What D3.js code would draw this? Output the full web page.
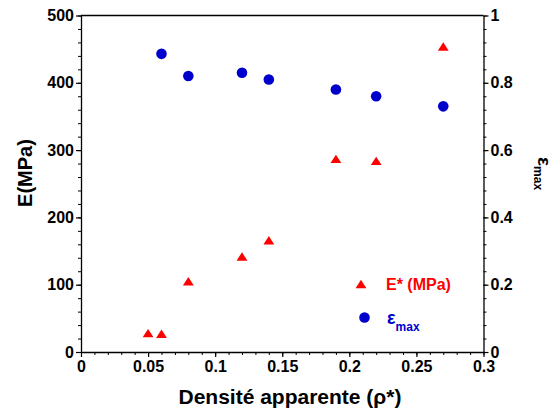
<!DOCTYPE html>
<html><head><meta charset="utf-8">
<script src="https://cdn.jsdelivr.net/npm/d3@7"></script>
<style>
body{margin:0;background:#fff;}
text{font-family:"Liberation Sans",Arial,Helvetica,sans-serif;font-weight:bold;}
</style></head>
<body><svg id="c" width="556" height="416"></svg>
<script>
const densityE = [0.05, 0.06, 0.08, 0.12, 0.14, 0.19, 0.22, 0.27];
const modulusE = [28, 27, 105, 142, 166, 287, 284, 454];
const densityEps = [0.06, 0.08, 0.12, 0.14, 0.19, 0.22, 0.27];
const epsMax = [0.886, 0.820, 0.830, 0.810, 0.780, 0.760, 0.730];
const xTicks = [0, 0.05, 0.1, 0.15, 0.2, 0.25, 0.3];
const yLeftTicks = [0, 100, 200, 300, 400, 500];
const yRightTicks = [0, 0.2, 0.4, 0.6, 0.8, 1];

const svg = d3.select("#c");
const L = 81, R = 483.5, T = 15.5, B = 352;
const x = d3.scaleLinear().domain([0, 0.3]).range([L, R]);
const yL = d3.scaleLinear().domain([0, 500]).range([B, T]);
const yR = d3.scaleLinear().domain([0, 1]).range([B, T]);

// frame top
svg.append("line").attr("x1", L).attr("x2", R).attr("y1", T).attr("y2", T)
  .attr("stroke", "#000").attr("stroke-width", 1.3);

function styleAxis(g, fs) {
  g.select(".domain").attr("stroke", "#000").attr("stroke-width", 1.3);
  g.selectAll(".tick line").attr("stroke", "#000").attr("stroke-width", 1.2);
  g.selectAll(".tick text").attr("font-size", fs).attr("fill", "#000")
    .style("font-family", '"Liberation Sans",Arial,sans-serif').style("font-weight", "bold");
}

// minor ticks
const gMinX = svg.append("g").attr("transform", `translate(0,${B})`)
  .call(d3.axisBottom(x).tickValues(d3.range(0, 0.3001, 0.01)).tickSize(3).tickFormat(""));
gMinX.select(".domain").remove();
gMinX.selectAll("line").attr("stroke", "#000");
const gMinL = svg.append("g").attr("transform", `translate(${L},0)`)
  .call(d3.axisLeft(yL).tickValues(d3.range(0, 501, 20)).tickSize(3).tickFormat(""));
gMinL.select(".domain").remove();
gMinL.selectAll("line").attr("stroke", "#000");
const gMinR = svg.append("g").attr("transform", `translate(${R},0)`)
  .call(d3.axisRight(yR).tickValues(d3.range(0, 1.0001, 0.04)).tickSize(3).tickFormat(""));
gMinR.select(".domain").remove();
gMinR.selectAll("line").attr("stroke", "#000");

const gx = svg.append("g").attr("transform", `translate(0,${B})`)
  .call(d3.axisBottom(x).tickValues(xTicks).tickSize(5).tickPadding(4).tickSizeOuter(0)
    .tickFormat(d => d3.format("")(+d.toFixed(2))));
styleAxis(gx, 16);
const gl = svg.append("g").attr("transform", `translate(${L},0)`)
  .call(d3.axisLeft(yL).tickValues(yLeftTicks).tickSize(5).tickPadding(2).tickSizeOuter(0));
styleAxis(gl, 16);
const gr = svg.append("g").attr("transform", `translate(${R},0)`)
  .call(d3.axisRight(yR).tickValues(yRightTicks).tickSize(5).tickPadding(2).tickSizeOuter(0)
    .tickFormat(d => String(+d.toFixed(1))));
styleAxis(gr, 16);

// titles
svg.append("text").attr("x", 290).attr("y", 404).attr("text-anchor", "middle")
  .attr("font-size", 21).text("Densité apparente (ρ*)");
svg.append("text").attr("transform", "translate(32,173) rotate(-90)").attr("text-anchor", "middle")
  .attr("font-size", 20).text("E(MPa)");
const rt = svg.append("text").attr("transform", "translate(537.5,157) rotate(90)").attr("font-size", 19);
rt.append("tspan").text("ε");
rt.append("tspan").attr("font-size", 12).attr("dy", 4).text("max");

// markers: flattened triangle centred on its bounding box
const triType = {
  draw(ctx, size) {
    const w = Math.sqrt(size) * 1.5, h = w * 0.78;
    ctx.moveTo(0, -h / 2); ctx.lineTo(w / 2, h / 2); ctx.lineTo(-w / 2, h / 2); ctx.closePath();
  }
};
const tri = d3.symbol().type(triType).size(52);
svg.append("g").selectAll("path").data(densityE.map((d, i) => [d, modulusE[i]]))
  .join("path").attr("d", tri)
  .attr("transform", d => `translate(${x(d[0])},${yL(d[1])})`)
  .attr("fill", "#ff0000");
svg.append("g").selectAll("circle").data(densityEps.map((d, i) => [d, epsMax[i]]))
  .join("circle").attr("cx", d => x(d[0])).attr("cy", d => yR(d[1])).attr("r", 5.3)
  .attr("fill", "#0000cc");

// legend
svg.append("path").attr("d", tri).attr("transform", "translate(361,284)").attr("fill", "#ff0000");
svg.append("text").attr("x", 386).attr("y", 290).attr("font-size", 16).attr("fill", "#ff0000").text("E* (MPa)");
svg.append("circle").attr("cx", 364.5).attr("cy", 317.5).attr("r", 5.3).attr("fill", "#0000cc");
const lt = svg.append("text").attr("x", 387).attr("y", 324).attr("font-size", 18).attr("fill", "#0000cc");
lt.append("tspan").text("ε");
lt.append("tspan").attr("font-size", 12).attr("dy", 7).text("max");
</script></body></html>
